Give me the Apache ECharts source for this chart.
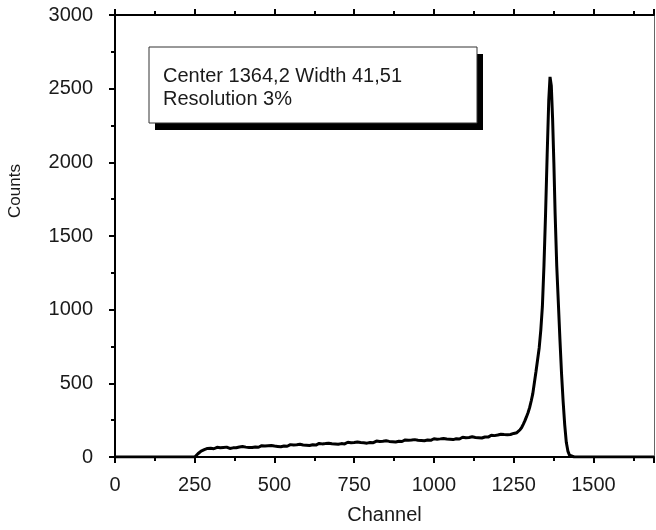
<!DOCTYPE html>
<html>
<head>
<meta charset="utf-8">
<script src="https://cdn.jsdelivr.net/npm/echarts@6/dist/echarts.min.js"></script>
<style>
  html, body { margin: 0; padding: 0; background: #fff; }
  #main { width: 656px; height: 530px; }
</style>
</head>
<body>
<div id="main"></div>
<script>
// spectrum: channel -> counts (noisy continuum, then the photopeak)
const channels = [
  0, 250, 255, 260, 265, 270, 275, 280, 285, 290, 295, 300, 305, 310, 315, 320, 325, 330, 335, 340, 345,
  350, 355, 360, 365, 370, 375, 380, 385, 390, 395, 400, 405, 410, 415, 420, 425, 430, 435, 440, 445,
  450, 455, 460, 465, 470, 475, 480, 485, 490, 495, 500, 505, 510, 515, 520, 525, 530, 535, 540, 545,
  550, 555, 560, 565, 570, 575, 580, 585, 590, 595, 600, 605, 610, 615, 620, 625, 630, 635, 640, 645,
  650, 655, 660, 665, 670, 675, 680, 685, 690, 695, 700, 705, 710, 715, 720, 725, 730, 735, 740, 745,
  750, 755, 760, 765, 770, 775, 780, 785, 790, 795, 800, 805, 810, 815, 820, 825, 830, 835, 840, 845,
  850, 855, 860, 865, 870, 875, 880, 885, 890, 895, 900, 905, 910, 915, 920, 925, 930, 935, 940, 945,
  950, 955, 960, 965, 970, 975, 980, 985, 990, 995, 1000, 1005, 1010, 1015, 1020, 1025, 1030, 1035, 1040, 1045,
  1050, 1055, 1060, 1065, 1070, 1075, 1080, 1085, 1090, 1095, 1100, 1105, 1110, 1115, 1120, 1125, 1130, 1135, 1140, 1145,
  1150, 1155, 1160, 1165, 1170, 1175, 1180, 1185, 1190, 1195, 1200, 1205, 1210, 1215, 1220, 1225, 1230, 1235, 1240, 1245,
  1250, 1255, 1260, 1265, 1270, 1275, 1280, 1285, 1290, 1295, 1300, 1305, 1310, 1320, 1325, 1330, 1335,
  1340, 1345, 1350, 1355, 1360, 1364, 1368, 1372, 1376, 1380, 1385, 1390, 1395, 1400, 1405, 1410,
  1415, 1420, 1425, 1430, 1440, 1690
]
const counts = [
  0, 0, 10, 22, 32, 40, 46, 50, 55, 58, 54, 60, 63, 56, 61, 66, 58, 63, 57, 65, 60,
  67, 61, 58, 66, 62, 69, 63, 60, 68, 64, 71, 62, 67, 73, 65, 70, 64, 72, 68, 75,
  66, 71, 77, 69, 74, 67, 76, 71, 78, 70, 74, 80, 72, 77, 70, 79, 75, 82, 73, 78,
  84, 76, 81, 74, 83, 79, 86, 77, 82, 88, 80, 85, 78, 87, 83, 90, 81, 86, 92, 84,
  89, 82, 91, 87, 94, 85, 90, 96, 88, 93, 86, 95, 91, 98, 89, 94, 100, 92, 97, 90,
  99, 95, 102, 93, 98, 104, 96, 101, 94, 103, 99, 106, 97, 102, 108, 100, 105, 98, 107, 103,
  110, 101, 106, 112, 104, 109, 102, 111, 107, 114, 105, 110, 116, 108, 113, 106, 115, 111, 118, 109,
  114, 120, 112, 117, 110, 119, 115, 122, 113, 118, 124, 116, 121, 114, 123, 119, 126, 117, 122, 129,
  120, 125, 118, 128, 124, 131, 122, 127, 134, 125, 130, 123, 133, 129, 137, 128, 133, 140, 131, 136,
  129, 140, 136, 144, 135, 141, 148, 139, 145, 138, 149, 145, 154, 146, 152, 160, 151, 158, 153, 164,
  160, 168, 165, 174, 185, 200, 222, 245, 272, 300, 335, 380, 430, 580, 660, 740, 860,
  1020, 1300, 1650, 2050, 2420, 2580, 2520, 2300, 2000, 1650, 1300, 1050, 800, 570, 380, 220,
  100, 40, 12, 3, 0, 0
]
const xTicks = { min: 0, max: 1690, step: 250 }
const yTicks = { min: 0, max: 3000, step: 500 }
const boxLines = ['Center 1364,2 Width 41,51', 'Resolution 3%']

const font = '"Liberation Sans", Arial, sans-serif'
const ink = '#1a1a1a'

let chart = echarts.init(document.getElementById('main'), null, { renderer: 'canvas' })

chart.setOption({
  animation: false,
  backgroundColor: '#fff',
  grid: {
    left: 115,
    right: 2,
    top: 15,
    bottom: 73,
    containLabel: false
  },
  xAxis: [
    {
      type: 'value',
      position: 'bottom',
      min: xTicks.min,
      max: xTicks.max,
      interval: xTicks.step,
      name: 'Channel',
      nameLocation: 'middle',
      nameGap: 48,
      nameTextStyle: { color: ink, fontSize: 20, fontFamily: font },
      axisLine: { show: true, onZero: false, lineStyle: { color: '#000', width: 2 } },
      axisTick: { show: true, inside: false, length: 6, lineStyle: { color: '#000', width: 2 } },
      minorTick: { show: true, splitNumber: 2, length: 4, lineStyle: { color: '#000', width: 2 } },
      axisLabel: {
        color: ink, fontSize: 20, fontFamily: font, margin: 18,
        showMaxLabel: false,
        formatter: v => (v % 250 === 0 ? String(v) : '')
      },
      splitLine: { show: false }
    },
    {
      type: 'value',
      position: 'top',
      min: xTicks.min,
      max: xTicks.max,
      interval: xTicks.step,
      axisLine: { show: true, onZero: false, lineStyle: { color: '#000', width: 2 } },
      axisTick: { show: true, inside: false, length: 6, lineStyle: { color: '#000', width: 2 } },
      minorTick: { show: true, splitNumber: 2, length: 4, lineStyle: { color: '#000', width: 2 } },
      axisLabel: { show: false },
      splitLine: { show: false }
    }
  ],
  yAxis: [
    {
      type: 'value',
      position: 'left',
      min: yTicks.min,
      max: yTicks.max,
      interval: yTicks.step,
      axisLine: { show: true, onZero: false, lineStyle: { color: '#000', width: 2 } },
      axisTick: { show: true, inside: false, length: 6, lineStyle: { color: '#000', width: 2 } },
      minorTick: { show: true, splitNumber: 2, length: 4, lineStyle: { color: '#000', width: 2 } },
      axisLabel: { color: ink, fontSize: 20, fontFamily: font, margin: 22, formatter: v => String(v) },
      splitLine: { show: false }
    },
    {
      type: 'value',
      position: 'right',
      min: yTicks.min,
      max: yTicks.max,
      interval: yTicks.step,
      axisLine: { show: true, onZero: false, lineStyle: { color: '#666', width: 1 } },
      axisTick: { show: false },
      axisLabel: { show: false },
      splitLine: { show: false }
    }
  ],
  graphic: [
    {
      // y axis title, sits a bit above the middle in the original
      type: 'text',
      x: 15,
      y: 191,
      rotation: Math.PI / 2,
      style: {
        text: 'Counts',
        fill: ink,
        fontSize: 17,
        fontFamily: font,
        align: 'center',
        verticalAlign: 'middle'
      }
    },
    {
      type: 'rect',
      shape: { x: 155, y: 54, width: 328, height: 76 },
      style: { fill: '#000' },
      z: 10
    },
    {
      type: 'rect',
      shape: { x: 149, y: 47, width: 328, height: 76 },
      style: { fill: '#fff', stroke: '#333', lineWidth: 1 },
      z: 11
    },
    {
      type: 'text',
      left: 163,
      top: 65,
      z: 12,
      style: {
        text: boxLines.join('\n'),
        fill: ink,
        fontSize: 20,
        fontFamily: font,
        lineHeight: 23
      }
    }
  ],
  series: [
    {
      name: 'Counts',
      type: 'line',
      xAxisIndex: 0,
      yAxisIndex: 0,
      data: channels.map((c, i) => [c, counts[i]]),
      symbol: 'none',
      smooth: false,
      lineStyle: { color: '#000', width: 3 },
      z: 5
    }
  ]
})
</script>
</body>
</html>
